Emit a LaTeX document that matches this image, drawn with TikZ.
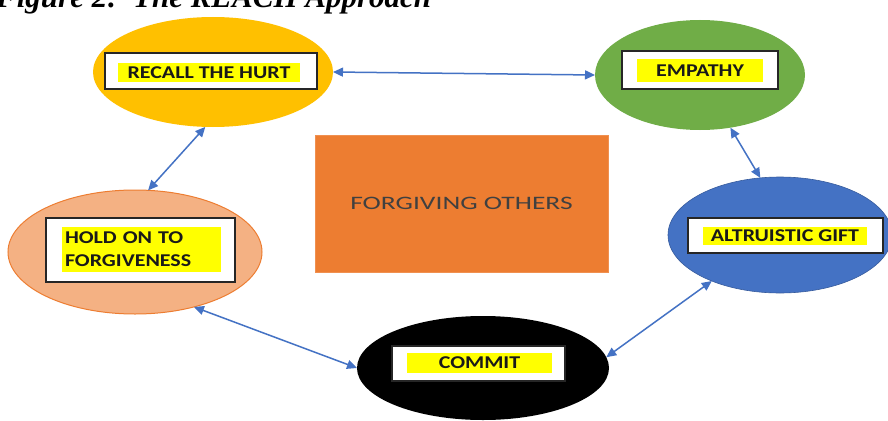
\documentclass[tikz,border=0pt]{standalone}
\usepackage{fontspec}
\setmainfont{Liberation Serif}
\newfontfamily\lbl[FakeStretch=1.22]{Carlito}
\newfontfamily\lite[FakeStretch=1.45]{Carlito}
\usetikzlibrary{shapes.geometric,arrows.meta}
\definecolor{cGold}{HTML}{FFC000}
\definecolor{cGreen}{HTML}{70AD47}
\definecolor{cBlue}{HTML}{4472C4}
\definecolor{cSalmon}{HTML}{F4B183}
\definecolor{cOrange}{HTML}{ED7D31}
\definecolor{cYellow}{HTML}{FFFF00}
\definecolor{cArrow}{HTML}{4472C4}
\definecolor{cText}{HTML}{404040}
\begin{document}
\begin{tikzpicture}[x=1pt,y=-1pt,
  oval/.style={ellipse,inner sep=0pt,outer sep=0pt},
  inbox/.style={rectangle,draw=black!85,line width=1.6pt,fill=white,inner sep=0pt},
  hl/.style={rectangle,fill=cYellow,inner sep=0pt,text=black!90,font=\lbl\bfseries\fontsize{18}{20}\selectfont},
  arr/.style={draw=cArrow,line width=1.5pt,{Triangle[length=10pt,width=9pt]}-{Triangle[length=10pt,width=9pt]}}
]
\useasboundingbox (0,0) rectangle (888,420);
\clip (0,0) rectangle (888,420);
\fill[white] (0,0) rectangle (888,420);

\node[anchor=base west,inner sep=0pt,font=\bfseries\itshape\fontsize{31}{31}\selectfont] (title) at (-4,8) {Figure 2:\ \ The REACH Approach};

% ellipses
\node[oval,fill=cGold,minimum width=240pt,minimum height=110pt] (recall) at (213,72) {};
\node[oval,fill=cGreen,minimum width=210pt,minimum height=110pt] (empathy) at (700,75) {};
\node[oval,fill=cBlue,draw=cBlue!80!black,line width=0.6pt,minimum width=224pt,minimum height=116pt] (altru) at (780,235) {};
\node[oval,fill=cSalmon,draw=cOrange,line width=1pt,minimum width=254pt,minimum height=124pt] (hold) at (135,252) {};
\node[oval,fill=black,minimum width=252pt,minimum height=104pt] (commit) at (483,368) {};

% centre rectangle
\node[rectangle,fill=cOrange,draw=cOrange!85!white,line width=0.8pt,minimum width=293pt,minimum height=137pt,inner sep=0pt,
      text=cText,font=\lite\fontsize{19}{22}\selectfont] (centre) at (461.5,203.5) {FORGIVING OTHERS};

% inner boxes
\node[inbox,minimum width=212pt,minimum height=36pt] (recallbox) at (211,71) {};
\node[inbox,minimum width=156pt,minimum height=38pt] (empathybox) at (700,70) {};
\node[inbox,minimum width=195pt,minimum height=35pt] (altrubox) at (785.5,235.5) {};
\node[inbox,minimum width=189pt,minimum height=64pt] (holdbox) at (140.5,250) {};
\node[inbox,minimum width=173pt,minimum height=35pt] (commitbox) at (478.5,363.5) {};

% highlighted labels
\node[hl,minimum width=182pt,minimum height=19pt] (recalltxt) at (209,72.5) {RECALL THE HURT};
\node[hl,minimum width=126pt,minimum height=23pt] (empathytxt) at (700,70.5) {EMPATHY};
\node[hl,minimum width=164pt,minimum height=18pt] (altrutxt) at (785,236) {ALTRUISTIC GIFT};
\node[hl,minimum width=159pt,minimum height=45pt,text width=153pt,inner xsep=3pt,align=left,
      font=\lbl\bfseries\fontsize{18}{23}\selectfont] (holdtxt) at (141.5,249.5) {HOLD ON TO\\FORGIVENESS};
\node[hl,minimum width=145pt,minimum height=20pt] (committxt) at (479.5,363) {COMMIT};

% connectors
\draw[arr] (recall.0) -- (empathy.180);
\draw[arr] (empathy.-60.5) -- (altru.109.6);
\draw[arr] (altru.-146.7) -- (commit.5);
\draw[arr] (commit.180) -- (hold.-43);
\draw[arr] (hold.78.7) -- (recall.-98);
\end{tikzpicture}
\end{document}
